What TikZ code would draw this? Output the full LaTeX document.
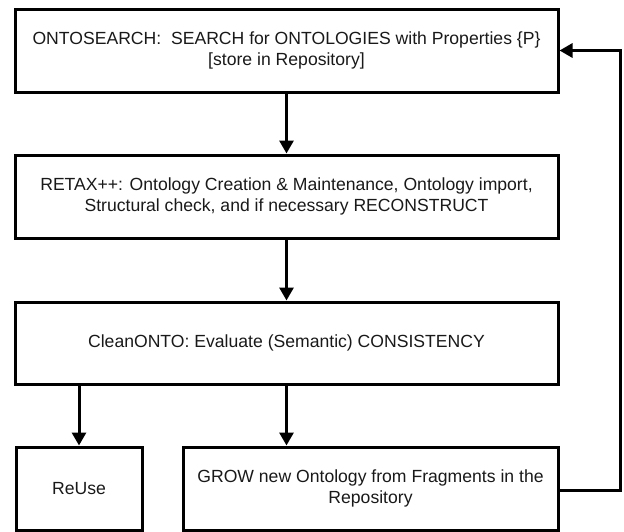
\documentclass[tikz,border=0pt]{standalone}
\usepackage{fontspec}
\setmainfont{Liberation Sans}
\usetikzlibrary{arrows.meta}
\begin{document}
\begin{tikzpicture}[x=1pt,y=-1pt,
  box/.style={draw=black,line width=3pt,rectangle,align=center,
    inner sep=0pt,font=\fontsize{17.6}{21}\selectfont,text=black!90},
  arr/.style={line width=3pt,-{Triangle[width=14pt,length=13pt]}}]
\useasboundingbox (0,0) rectangle (624,531);
\node[box,minimum width=543pt,minimum height=83pt] (search) at (286.5,50.5)
  {ONTOSEARCH:\ \ SEARCH for ONTOLOGIES with Properties \{P\}\\ {[}store in Repository{]}};
\node[box,minimum width=543pt,minimum height=83pt] (retax) at (286.5,196.5)
  {RETAX++: Ontology Creation \& Maintenance, Ontology import,\\ Structural check, and if necessary RECONSTRUCT};
\node[box,minimum width=543pt,minimum height=82pt] (clean) at (286.5,343)
  {CleanONTO: Evaluate (Semantic) CONSISTENCY};
\node[box,minimum width=126pt,minimum height=83pt] (reuse) at (79,488.5)
  {ReUse};
\node[box,minimum width=375pt,minimum height=83pt] (grow) at (370.5,488.5)
  {GROW new Ontology from Fragments in the\\ Repository};
\coordinate (loop) at (620,490);
\draw[arr] (search.south) -- (retax.north);
\draw[arr] (retax.south) -- (clean.north);
\draw[arr] (reuse.north |- clean.south) -- (reuse.north);
\draw[arr] (clean.south) -- (clean.south |- grow.north);
\draw[arr,line join=miter] (grow.east |- loop) -- (loop) |- (search.east);
\end{tikzpicture}
\end{document}
